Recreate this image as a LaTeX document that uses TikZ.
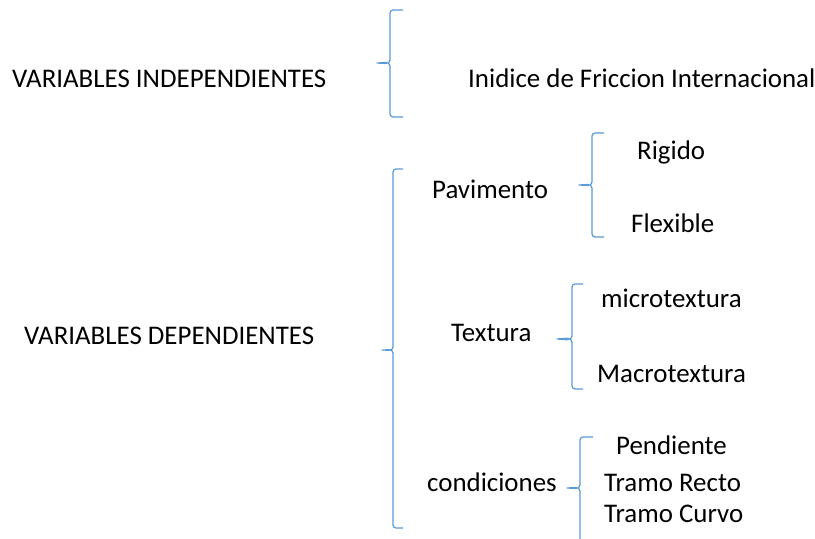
\documentclass[tikz,border=0pt]{standalone}
\usepackage{fontspec}
\setmainfont{Carlito}
\definecolor{bracecol}{RGB}{91,155,213}
\tikzset{
  lbl/.style={anchor=base west, inner sep=0pt, font=\fontsize{27}{31}\selectfont, text=black},
  brc/.style={draw=bracecol, line width=1.2bp, line join=round}
}
% #1 right x, #2 vertical x, #3 tip x, #4 top y, #5 mid y, #6 bottom y
\newcommand{\mybracepath}[6]{%
  \draw[brc] (#1,#4) -- (#2+3,#4) to[out=180,in=90] (#2,#4+3) -- (#2,#5-3)
    to[out=-90,in=0] (#3,#5) to[out=0,in=90] (#2,#5+3) -- (#2,#6-3)
    to[out=-90,in=180] (#2+3,#6) -- (#1,#6);}
\begin{document}
\begin{tikzpicture}[x=1bp,y=-1bp]
\useasboundingbox[fill=white] (0,0) rectangle (815,539);
% braces
\mybracepath{403}{390}{377}{10}{63}{117}
\mybracepath{403}{393}{382}{169}{350}{528}
\mybracepath{604}{592}{579}{133}{185}{237}
\mybracepath{583}{572}{557}{284}{339}{389}
\draw[brc] (593,437) -- (583,437) to[out=180,in=90] (580,440) -- (580,485)
  to[out=-90,in=0] (567,488) to[out=0,in=90] (580,491) -- (580,539);
% texts
\node[lbl] (vi) at (12,88) {VARIABLES INDEPENDIENTES};
\node[lbl] (ifi) at (468,88) {Inidice de Friccion Internacional};
\node[lbl] (vd) at (24,344) {VARIABLES DEPENDIENTES};
\node[lbl] (pav) at (432,199) {Pavimento};
\node[lbl] (rig) at (637,160) {Rigido};
\node[lbl] (flex) at (631,233) {Flexible};
\node[lbl] (tex) at (451,341) {Textura};
\node[lbl] (mic) at (601,308) {microtextura};
\node[lbl] (mac) at (597,382) {Macrotextura};
\node[lbl] (cond) at (427,491) {condiciones};
\node[lbl] (pend) at (616,454) {Pendiente};
\node[lbl] (trr) at (604,491) {Tramo Recto};
\node[lbl] (trc) at (604,522) {Tramo Curvo};
\end{tikzpicture}
\end{document}
